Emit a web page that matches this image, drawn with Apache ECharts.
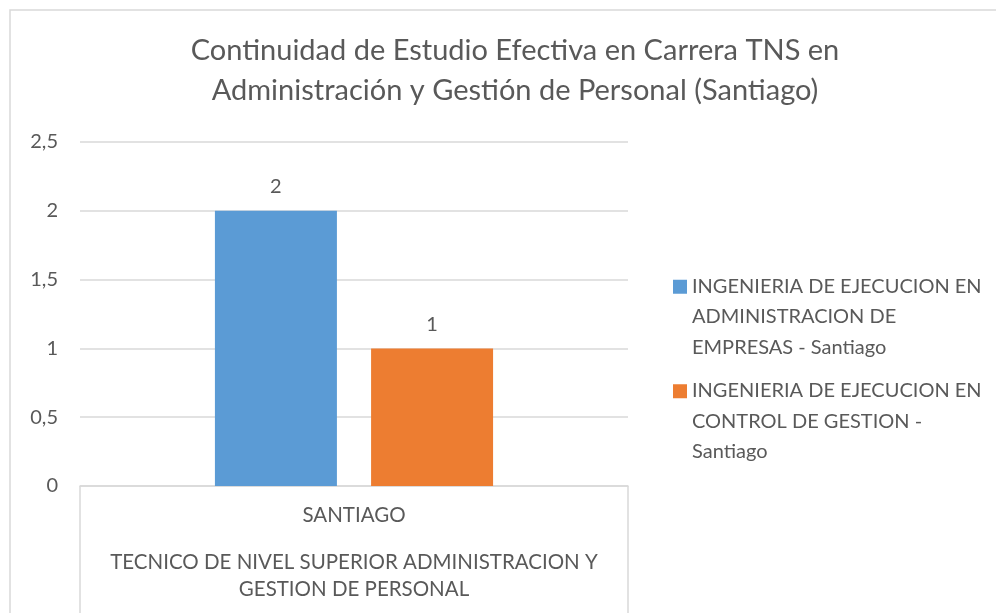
<!DOCTYPE html>
<html>
<head>
<meta charset="utf-8">
<script src="https://cdn.jsdelivr.net/npm/echarts@6/dist/echarts.min.js"></script>
<style>
  html, body { margin: 0; padding: 0; background: #fff; }
  #chart { width: 996px; height: 613px; }
</style>
</head>
<body>
<div id="chart"></div>
<script>
// chart data
const titleText = 'Continuidad de Estudio Efectiva en Carrera TNS en\nAdministración y Gestión de Personal (Santiago)';
const categories = ['SANTIAGO'];
const groupLabels = ['TECNICO DE NIVEL SUPERIOR ADMINISTRACION Y\nGESTION DE PERSONAL'];
const seriesNames = [
  'INGENIERIA DE EJECUCION EN ADMINISTRACION DE EMPRESAS - Santiago',
  'INGENIERIA DE EJECUCION EN CONTROL DE GESTION - Santiago'
];
const legendLines = [
  'INGENIERIA DE EJECUCION EN\nADMINISTRACION DE\nEMPRESAS - Santiago',
  'INGENIERIA DE EJECUCION EN\nCONTROL DE GESTION -\nSantiago'
];
const adminValues = [2];
const controlValues = [1];
const yTicks = [0, 0.5, 1, 1.5, 2, 2.5];

const font = 'Lato, "Open Sans", sans-serif';
const textGray = '#595959';
const lineGray = '#d9d9d9';

// square swatch sitting on the first line of a 3-line legend entry
const legendIcon = 'path://M0,8L14,8L14,22L0,22Z M0,0 M0,90';

const chart = echarts.init(document.getElementById('chart'));

chart.setOption({
  animation: false,
  textStyle: { fontFamily: font },
  title: {
    text: titleText,
    left: 510,
    top: 26,
    textAlign: 'center',
    textStyle: { fontFamily: font, fontSize: 29, fontWeight: 'normal', color: textGray, lineHeight: 40 }
  },
  graphic: [{
    type: 'rect',
    shape: { x: 10, y: 10, width: 1000, height: 640 },
    style: { fill: 'none', stroke: lineGray, lineWidth: 1.5 },
    silent: true
  }],
  legend: {
    orient: 'vertical',
    left: 668,
    top: 266,
    itemWidth: 14,
    itemHeight: 90,
    itemGap: 13,
    icon: legendIcon,
    data: seriesNames,
    formatter: name => legendLines[seriesNames.indexOf(name)],
    textStyle: { fontFamily: font, fontSize: 20, color: textGray, lineHeight: 30.5 }
  },
  grid: { left: 80, right: 368, top: 142, bottom: 127 },
  xAxis: [{
    type: 'category',
    data: categories,
    boundaryGap: true,
    axisLine: { show: true, lineStyle: { color: lineGray, width: 1.5 } },
    axisTick: { show: true, length: 130, lineStyle: { color: lineGray, width: 1.5 } },
    axisLabel: { margin: 19, fontSize: 20.5, color: textGray, fontFamily: font }
  }, {
    type: 'category',
    data: groupLabels,
    position: 'bottom',
    axisLine: { show: false },
    axisTick: { show: false },
    axisLabel: { margin: 63, fontSize: 20.5, color: textGray, fontFamily: font, lineHeight: 27 }
  }],
  yAxis: {
    type: 'value',
    min: yTicks[0],
    max: yTicks[yTicks.length - 1],
    interval: 0.5,
    axisLine: { show: false },
    axisTick: { show: false },
    splitLine: { lineStyle: { color: lineGray, width: 1.5 } },
    axisLabel: {
      margin: 22,
      fontSize: 20,
      color: textGray,
      fontFamily: font,
      formatter: v => String(v).replace('.', ',')
    }
  },
  series: [{
    name: seriesNames[0],
    type: 'bar',
    data: adminValues,
    barWidth: 122,
    barGap: '28%',
    itemStyle: { color: '#5b9bd5' },
    label: { show: true, position: 'top', distance: 14, fontSize: 20, color: textGray, fontFamily: font }
  }, {
    name: seriesNames[1],
    type: 'bar',
    data: controlValues,
    barWidth: 122,
    barGap: '28%',
    itemStyle: { color: '#ed7d31' },
    label: { show: true, position: 'top', distance: 14, fontSize: 20, color: textGray, fontFamily: font }
  }]
});
</script>
</body>
</html>
